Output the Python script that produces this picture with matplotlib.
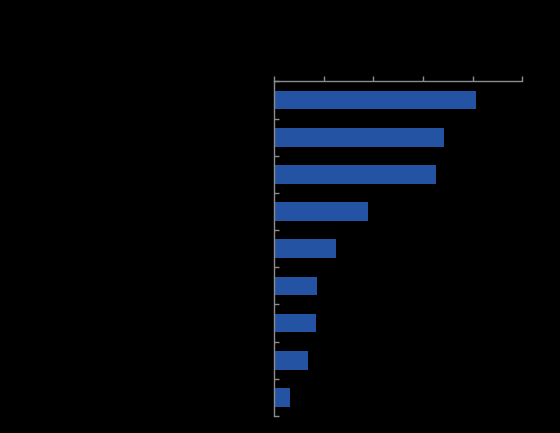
import numpy as np
import matplotlib
matplotlib.use("Agg")
import matplotlib.pyplot as plt

# values (axis 0..5)
categories = ["A", "B", "C", "D", "E", "F", "G", "H", "I"]
values = [4.07, 3.42, 3.26, 1.89, 1.24, 0.86, 0.84, 0.68, 0.32]
x_ticks = [0, 1, 2, 3, 4, 5]

BAR = "#2453a4"
AXIS = "#8c8c8c"

fig = plt.figure(figsize=(5.6, 4.33), dpi=100)
fig.patch.set_facecolor("black")
ax = fig.add_axes([0.4898, 0.0393, 0.4429, 0.7725])
ax.set_facecolor("black")

y = np.arange(len(categories))
ax.barh(y, values, height=0.5, color=BAR)

ax.set_xlim(0, 5)
ax.set_ylim(len(categories) - 0.5, -0.5)

# x axis on top, ticks pointing up
ax.xaxis.set_ticks_position("top")
ax.set_xticks(x_ticks)
ax.set_xticklabels([])
ax.tick_params(axis="x", direction="out", length=3.5, width=1, color=AXIS)

# y ticks at category boundaries, pointing into the plot
ax.set_yticks(np.arange(-0.5, len(categories)))
ax.set_yticklabels([])
ax.tick_params(axis="y", direction="in", length=3.5, width=1, color=AXIS)

for side in ["right", "bottom"]:
    ax.spines[side].set_visible(False)
for side in ["top", "left"]:
    ax.spines[side].set_color(AXIS)
    ax.spines[side].set_linewidth(1)

fig.savefig("out.png", dpi=100, facecolor="black")
